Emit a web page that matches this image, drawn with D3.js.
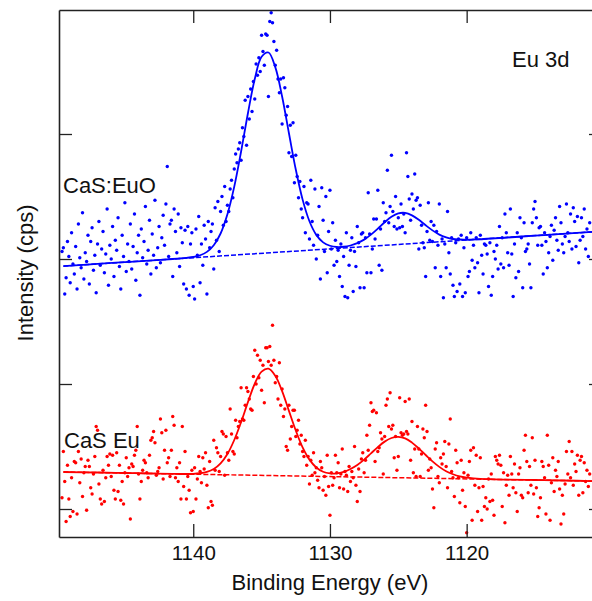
<!DOCTYPE html>
<html>
<head>
<meta charset="utf-8">
<script src="https://cdn.jsdelivr.net/npm/d3@7"></script>
<style>
  body { margin: 0; background: #fff; }
  text { font-family: "Liberation Sans", Arial, Helvetica, sans-serif; fill: #111; }
</style>
</head>
<body>
<div id="chart"></div>
<script>
// energy grid of the measured points (eV), 0.1 eV steps from 1149.6 down
const energyStart = 1149.6
const energyStep = 0.1

// measured intensities, arbitrary units (one tick = 1)
const blueCounts = [
  2.06, 2.09, 1.72, 1.85, 2.14, 2.02, 1.81, 2.21, 1.96, 1.88,
  2.10, 1.76, 2.28, 2.01, 1.93, 2.37, 1.84, 2.05, 1.98, 2.19,
  1.80, 2.14, 2.25, 1.91, 2.03, 1.73, 2.12, 2.30, 1.95, 2.08,
  2.22, 1.89, 2.04, 2.40, 1.79, 2.11, 2.00, 2.26, 1.86, 2.15,
  2.07, 2.33, 1.94, 1.76, 2.19, 2.02, 2.45, 1.90, 2.12, 1.98,
  2.28, 1.92, 2.10, 2.36, 1.83, 2.05, 2.19, 1.71, 2.24, 2.01,
  2.14, 2.42, 1.96, 2.07, 2.31, 1.88, 2.20, 2.03, 2.47, 1.93,
  2.09, 2.26, 1.97, 2.17, 2.35, 2.11, 2.44, 2.74, 2.02, 2.28,
  2.31, 1.86, 2.40, 2.22, 2.05, 2.36, 1.94, 2.25, 2.13, 1.80,
  2.23, 1.76, 2.26, 1.71, 2.12, 2.21, 1.78, 1.68, 2.24, 2.03,
  2.34, 1.81, 2.12, 1.95, 2.27, 2.16, 1.72, 2.30, 2.09, 2.22,
  2.28, 1.92, 2.41, 2.15, 2.46, 2.06, 2.38, 2.50, 2.27, 2.58,
  2.30, 2.43, 2.38, 2.56, 2.63, 2.49, 2.72, 2.84, 2.77, 2.88,
  2.93, 2.79, 3.05, 2.98, 3.27, 2.91, 3.30, 3.12, 3.36, 3.18,
  3.42, 3.28, 3.56, 3.47, 3.61, 3.50, 3.79, 3.66, 3.55, 3.80,
  3.79, 3.30, 3.90, 3.97, 3.89, 3.74, 3.55, 3.67, 3.44, 3.33,
  3.44, 3.08, 3.45, 3.37, 3.15, 3.22, 2.85, 3.07, 2.82, 3.09,
  2.61, 2.83, 2.66, 2.49, 2.62, 2.40, 2.33, 2.58, 2.21, 2.45,
  2.44, 2.16, 2.63, 2.30, 2.11, 2.56, 2.00, 2.19, 2.42, 1.84,
  2.57, 2.31, 2.06, 2.50, 1.89, 2.22, 2.55, 2.08, 2.29, 1.95,
  2.15, 1.98, 2.07, 1.86, 2.12, 1.78, 2.02, 1.70, 2.21, 1.69,
  1.95, 2.07, 2.17, 1.74, 2.06, 1.94, 2.26, 2.13, 1.77, 2.20,
  2.21, 1.77, 2.17, 1.89, 2.53, 2.20, 1.89, 2.08, 2.32, 2.16,
  2.32, 2.55, 1.95, 2.24, 1.91, 2.45, 2.30, 2.37, 2.71, 2.29,
  2.42, 2.83, 2.38, 2.26, 2.50, 2.24, 2.33, 2.25, 2.44, 2.26,
  2.36, 2.21, 2.85, 2.66, 2.48, 2.31, 2.52, 2.40, 2.68, 2.47,
  2.49, 2.08, 2.43, 2.27, 2.13, 2.09, 1.86, 2.22, 2.45, 2.15,
  2.30, 2.14, 2.27, 1.93, 2.22, 2.11, 2.44, 1.86, 2.16, 1.69,
  2.12, 1.93, 2.38, 2.05, 1.88, 2.17, 1.79, 1.70, 2.13, 1.74,
  2.16, 1.80, 2.19, 1.70, 2.09, 1.73, 2.17, 1.86, 1.90, 2.21,
  1.99, 2.11, 1.93, 2.17, 1.97, 1.73, 2.19, 2.03, 1.88, 2.12,
  2.11, 2.04, 1.78, 2.13, 1.71, 1.86, 2.06, 2.00, 2.11, 1.92,
  2.26, 1.96, 2.17, 1.93, 2.36, 2.21, 2.05, 1.95, 2.40, 2.04,
  1.70, 2.12, 1.85, 2.21, 1.90, 2.33, 2.17, 1.77, 2.29, 2.06,
  2.08, 2.12, 1.96, 1.77, 2.29, 2.40, 2.46, 2.33, 2.11, 2.25,
  2.26, 2.11, 1.88, 2.21, 2.14, 1.93, 2.05, 2.18, 2.27, 1.99,
  2.23, 2.33, 2.15, 2.07, 2.42, 2.29, 2.12, 2.05, 2.18, 2.44,
  2.21, 2.14, 2.36, 2.08, 2.41, 2.30, 2.10, 2.34, 1.97, 2.15,
  2.33, 2.18, 2.40, 2.08, 2.24, 2.02, 2.29
]

const redCounts = [
  0.09, 0.46, 0.22, -0.10, 0.35, 0.08, -0.06, 0.25, -0.02, 0.38,
  0.37, -0.04, 0.46, 0.21, 0.40, 0.10, 0.29, 0.34, -0.01, 0.39,
  0.34, 0.17, 0.12, 0.28, 0.42, 0.66, 0.63, 0.20, 0.08, 0.04,
  0.31, 0.06, 0.25, 0.42, 0.35, 0.44, 0.26, 0.43, 0.15, 0.08,
  0.45, 0.14, 0.35, 0.07, 0.22, 0.04, 0.29, 0.41, 0.26, 0.33,
  -0.08, 0.36, 0.34, 0.43, 0.47, 0.66, 0.28, 0.08, 0.22, 0.31,
  0.39, 0.37, 0.29, 0.25, 0.43, 0.55, 0.57, 0.62, 0.53, 0.27,
  0.30, 0.33, 0.72, 0.61, 0.24, 0.47, 0.63, 0.37, 0.41, 0.26,
  0.47, 0.74, 0.67, 0.25, 0.33, 0.22, 0.37, 0.08, 0.66, 0.18,
  0.46, 0.08, 0.26, 0.15, -0.03, 0.31, -0.02, 0.33, 0.08, 0.24,
  0.42, 0.30, 0.21, 0.41, 0.32, 0.45, 0.19, 0.01, 0.38, 0.06,
  0.03, 0.55, 0.31, 0.49, 0.45, 0.30, 0.42, 0.62, 0.60, 0.27,
  0.58, 0.45, 0.39, 0.80, 0.60, 0.46, 0.44, 0.71, 0.57, 0.66,
  0.70, 0.97, 0.72, 0.71, 0.83, 0.97, 0.94, 0.88, 0.80, 0.79,
  1.06, 1.27, 1.00, 1.23, 1.05, 1.19, 0.95, 1.15, 0.85, 1.29,
  1.29, 1.18, 1.30, 1.15, 1.47, 1.19, 1.01, 1.06, 0.88, 1.17,
  0.83, 0.96, 0.74, 0.80, 0.50, 0.47, 0.83, 0.56, 0.66, 0.79,
  0.79, 0.58, 0.63, 0.71, 0.52, 0.59, 0.46, 0.42, 0.55, 0.35,
  0.42, 0.20, 0.39, 0.27, 0.45, 0.29, 0.33, 0.23, 0.17, 0.38,
  0.33, 0.15, 0.26, 0.11, 0.43, 0.18, -0.05, 0.29, 0.19, 0.25,
  0.43, 0.29, 0.37, 0.17, 0.28, 0.48, 0.16, 0.30, 0.27, 0.14,
  0.34, 0.22, 0.30, 0.25, 0.50, 0.19, 0.06, 0.32, 0.14, 0.40,
  0.45, 0.29, 0.39, 0.59, 0.47, 0.67, 0.85, 0.78, 0.79, 0.38,
  0.77, 0.46, 0.49, 0.61, 0.56, 0.28, 0.58, 0.83, 0.88, 0.66,
  0.93, 0.64, 0.67, 0.41, 0.58, 0.31, 0.42, 0.89, 0.61, 0.59,
  0.60, 0.86, 0.62, 0.60, 0.88, 0.39, 0.70, 0.29, 0.48, 0.26,
  0.66, 0.48, 0.26, 0.44, 0.64, 0.57, 0.83, 0.62, 0.31, 0.40,
  0.33, 0.16, 0.01, 0.48, 0.53, 0.26, 0.21, 0.41, 0.36, 0.44,
  0.54, 0.34, 0.17, 0.52, 0.72, 0.30, 0.25, 0.10, 0.47, 0.37,
  0.25, 0.05, 0.39, 0.15, 0.29, 0.02, -0.19, 0.27, 0.38, 0.47,
  -0.09, 0.49, 0.19, 0.43, -0.02, 0.17, 0.41, -0.09, 0.18, 0.02,
  0.09, 0.00, 0.24, 0.06, 0.28, 0.07, -0.05, 0.42, 0.39, 0.36,
  0.43, 0.35, 0.02, 0.29, -0.11, 0.19, 0.27, 0.11, 0.42, 0.28,
  0.17, 0.36, 0.13, -0.02, 0.28, 0.33, 0.11, 0.09, 0.47, 0.59,
  0.38, 0.13, 0.34, 0.19, 0.57, 0.12, 0.39, 0.17, -0.06, 0.01,
  0.09, 0.38, 0.34, 0.25, -0.04, 0.59, 0.35, -0.09, 0.21, 0.41,
  0.14, 0.31, 0.26, 0.38, 0.16, -0.12, 0.11, -0.04, 0.20, 0.46,
  0.28, 0.54, 0.25, 0.46, 0.19, 0.36, 0.30, 0.43, 0.11, 0.39,
  0.42, 0.13, 0.37, 0.22, 0.31, 0.18, 0.28
]

// fitted envelopes
const fitEnergy = [
  1149.5, 1147, 1145, 1143, 1141.5, 1141, 1140.5, 1140, 1139.5, 1139,
  1138.5, 1138, 1137.5, 1137, 1136.5, 1136, 1135.5, 1135, 1134.5, 1134,
  1133.5, 1133, 1132.5, 1132, 1131.5, 1131, 1130.5, 1130, 1129.5, 1129,
  1128.5, 1128, 1127.5, 1127, 1126.5, 1126, 1125.5, 1125, 1124.5, 1124,
  1123.5, 1123, 1122.5, 1122, 1121.5, 1121, 1120.5, 1120, 1119.5, 1119,
  1118.5, 1117, 1115, 1113, 1110.5
]
const blueFit = [
  1.943, 1.961, 1.975, 1.989, 2.000, 2.004, 2.009, 2.016, 2.030, 2.057,
  2.110, 2.204, 2.358, 2.579, 2.860, 3.166, 3.440, 3.618, 3.652, 3.535,
  3.300, 3.006, 2.716, 2.475, 2.302, 2.193, 2.133, 2.106, 2.096, 2.098,
  2.108, 2.127, 2.155, 2.195, 2.243, 2.294, 2.338, 2.365, 2.369, 2.349,
  2.314, 2.270, 2.229, 2.195, 2.173, 2.160, 2.156, 2.154, 2.156, 2.158,
  2.162, 2.172, 2.187, 2.201, 2.219
]
const redFit = [
  0.296, 0.292, 0.288, 0.284, 0.281, 0.280, 0.280, 0.281, 0.286, 0.297,
  0.320, 0.365, 0.440, 0.552, 0.695, 0.855, 1.002, 1.099, 1.123, 1.066,
  0.943, 0.785, 0.628, 0.493, 0.395, 0.332, 0.298, 0.285, 0.285, 0.297,
  0.320, 0.352, 0.395, 0.445, 0.495, 0.539, 0.568, 0.577, 0.565, 0.531,
  0.484, 0.432, 0.381, 0.337, 0.302, 0.278, 0.261, 0.251, 0.245, 0.241,
  0.239, 0.235, 0.232, 0.228, 0.223
]

// linear backgrounds (dashed)
const baseEnergy = [1149.5, 1110.5]
const blueBase = [1.943, 2.219]
const redBase = [0.296, 0.223]

const xTicks = [1140, 1130, 1120]
const yTicks = [0, 1, 2, 3]

const blue = '#0000ff'
const red = '#ff0000'

const W = 592, H = 601
const plotLeft = 59, plotRight = 602, plotTop = 10, plotBottom = 537

const xScale = d3.scaleLinear().domain([1149.82, 1110.1]).range([plotLeft, plotRight])
const yScale = d3.scaleLinear().domain([-0.224, 3.992]).range([plotBottom, plotTop])

const energies = d3.range(blueCounts.length).map(function(i) {
  return +(energyStart - i * energyStep).toFixed(1)
})

const svg = d3.select('#chart')
  .append('svg')
  .attr('width', W)
  .attr('height', H)

function pts(values) {
  return values.map(function(v, i) { return [energies[i], v] })
}
function zip(xs, ys) {
  return xs.map(function(x, i) { return [x, ys[i]] })
}

// scatter
const series = [
  { color: blue, data: pts(blueCounts) },
  { color: red, data: pts(redCounts) }
]
series.forEach(function(s) {
  svg.append('g')
    .selectAll('circle')
    .data(s.data)
    .join('circle')
      .attr('cx', function(d) { return xScale(d[0]) })
      .attr('cy', function(d) { return yScale(d[1]) })
      .attr('r', 1.7)
      .attr('fill', s.color)
})

const line = d3.line()
  .x(function(d) { return xScale(d[0]) })
  .y(function(d) { return yScale(d[1]) })
const smooth = d3.line()
  .curve(d3.curveCatmullRom.alpha(0.5))
  .x(function(d) { return xScale(d[0]) })
  .y(function(d) { return yScale(d[1]) })

// backgrounds
;[[blueBase, blue], [redBase, red]].forEach(function(b) {
  svg.append('path')
    .attr('d', line(zip(baseEnergy, b[0])))
    .attr('fill', 'none')
    .attr('stroke', b[1])
    .attr('stroke-width', 1.5)
    .attr('stroke-dasharray', '5,2')
})

// fits
;[[blueFit, blue], [redFit, red]].forEach(function(f) {
  svg.append('path')
    .attr('d', smooth(zip(fitEnergy, f[0])))
    .attr('fill', 'none')
    .attr('stroke', f[1])
    .attr('stroke-width', 1.8)
})

// frame with inward ticks
const tickLen = 13
function styleAxis(g) {
  g.select('.domain').attr('stroke', '#222').attr('stroke-width', 1.6)
  g.selectAll('.tick line').attr('stroke', '#222').attr('stroke-width', 1.3)
}

svg.append('g')
  .attr('transform', `translate(0, ${plotBottom})`)
  .call(d3.axisBottom(xScale).tickValues(xTicks).tickSizeInner(-tickLen).tickSizeOuter(0).tickPadding(8).tickFormat(d3.format('d')))
  .call(styleAxis)
  .call(function(g) {
    g.selectAll('text')
      .style('font-size', '20.5px')
      .style('font-family', '"Liberation Sans", Arial, sans-serif')
      .attr('fill', '#111')
  })

svg.append('g')
  .attr('transform', `translate(0, ${plotTop})`)
  .call(d3.axisTop(xScale).tickValues(xTicks).tickSizeInner(-tickLen).tickSizeOuter(0).tickFormat(''))
  .call(styleAxis)

svg.append('g')
  .attr('transform', `translate(${plotLeft}, 0)`)
  .call(d3.axisLeft(yScale).tickValues(yTicks).tickSizeInner(-tickLen).tickSizeOuter(0).tickFormat(''))
  .call(styleAxis)

svg.append('g')
  .attr('transform', `translate(${plotRight}, 0)`)
  .call(d3.axisRight(yScale).tickValues(yTicks).tickSizeInner(-tickLen).tickSizeOuter(0).tickFormat(''))
  .call(styleAxis)

// labels
svg.append('text')
  .attr('x', 512).attr('y', 67)
  .style('font-size', '22px')
  .text('Eu 3d')

svg.append('text')
  .attr('x', 63).attr('y', 193)
  .style('font-size', '22px')
  .text('CaS:EuO')

svg.append('text')
  .attr('x', 64).attr('y', 448)
  .style('font-size', '22px')
  .text('CaS Eu')

svg.append('text')
  .attr('x', 330).attr('y', 590)
  .attr('text-anchor', 'middle')
  .style('font-size', '22px')
  .text('Binding Energy (eV)')

svg.append('text')
  .attr('transform', 'translate(33, 273) rotate(-90)')
  .attr('text-anchor', 'middle')
  .style('font-size', '22px')
  .text('Intensity (cps)')
</script>
</body>
</html>
